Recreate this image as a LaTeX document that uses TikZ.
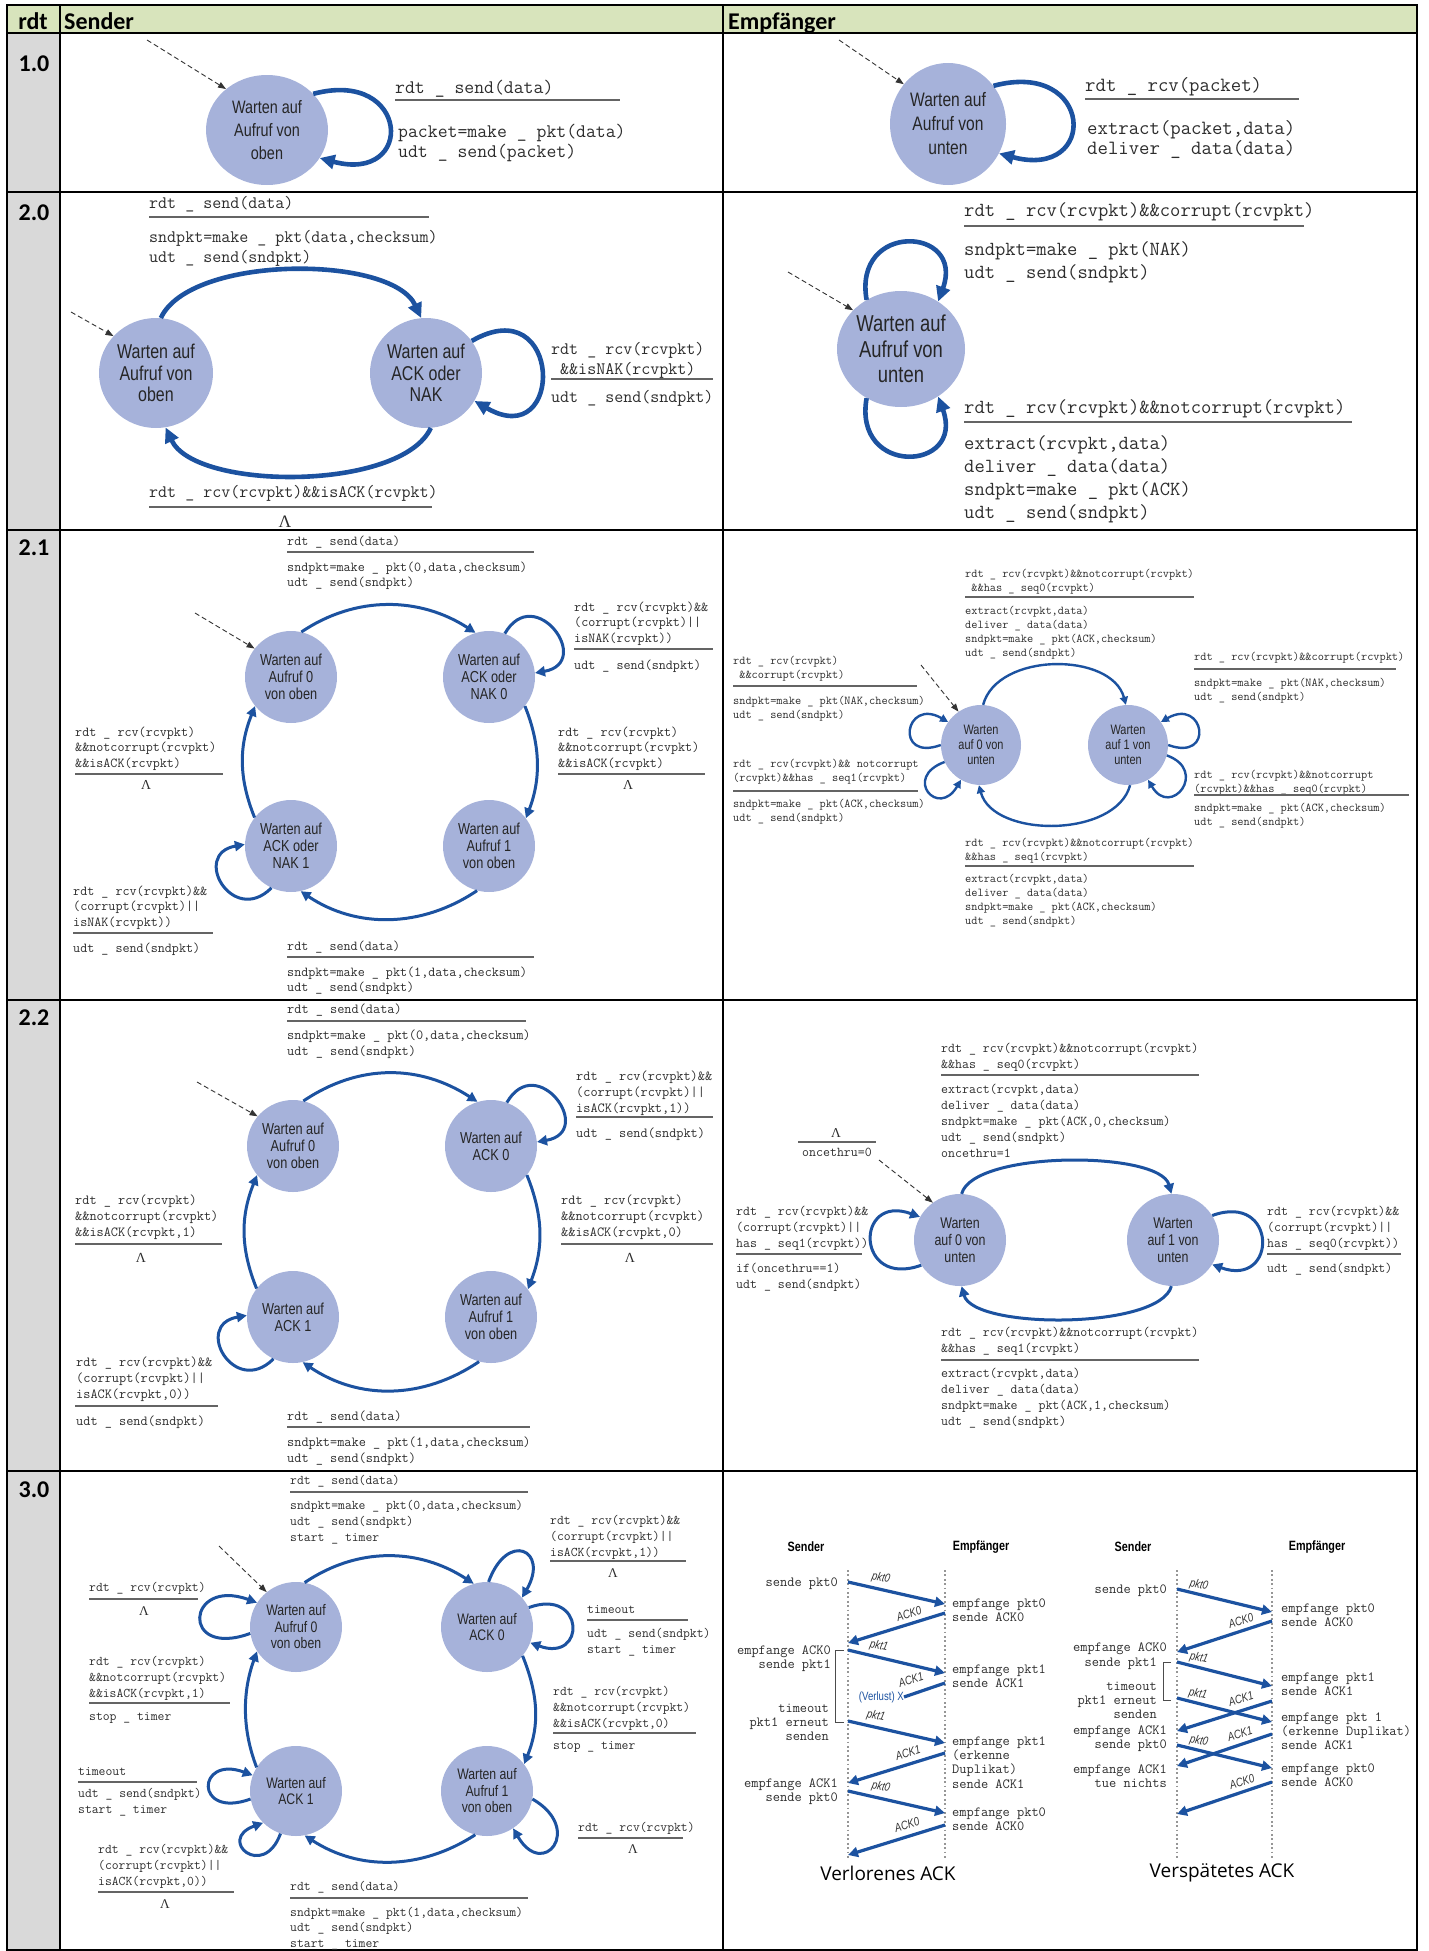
\documentclass[tikz,border=0pt]{standalone}
\usepackage{fontspec}
\newfontfamily\statefont[FakeStretch=0.8]{Liberation Sans}
\newfontfamily\headfont{Carlito}
\newfontfamily\titlefont{Open Sans}
\newfontfamily\lamfont{Liberation Serif}
\usetikzlibrary{arrows.meta,shapes.geometric}
\definecolor{hdrgreen}{RGB}{216,228,188}
\definecolor{colgray}{RGB}{217,217,217}
\definecolor{stfill}{RGB}{166,178,218}
\definecolor{trblue}{RGB}{28,82,160}
\definecolor{codegray}{RGB}{45,45,45}
\definecolor{rulegray}{RGB}{100,100,100}
\definecolor{lifegray}{RGB}{150,150,150}
% line blocks whose baseline is the first line
\newcommand{\lns}[1]{\begin{tabular}[t]{@{}l@{}}#1\end{tabular}}
\newcommand{\rlns}[1]{\begin{tabular}[t]{@{}r@{}}#1\end{tabular}}
\begin{document}
\begin{tikzpicture}[x=1pt,y=1pt,
  state/.style={ellipse,fill=stfill,inner sep=0pt,align=center,text=black!85},
  ini/.style={draw=black!80,line width=0.9pt,dash pattern=on 5pt off 3pt,-{Triangle[length=8pt,width=6pt]}},
  tra/.style={draw=trblue,line width=4.6pt,-{Triangle[length=15pt,width=14pt]}},
  trb/.style={draw=trblue,line width=3pt,-{Triangle[length=10pt,width=10pt]}},
  trc/.style={draw=trblue,line width=2.4pt,-{Triangle[length=8pt,width=8pt]}},
  txt/.style={anchor=base west,inner sep=0pt,text=codegray},
  rul/.style={draw=rulegray,line width=1.3pt},
  lam/.style={inner sep=0pt,text=codegray},
  hd/.style={anchor=base,inner sep=0pt,font=\headfont\bfseries\fontsize{24}{28}\selectfont},
  f10/.style={font=\statefont\fontsize{18}{23}\selectfont},
  f10r/.style={font=\statefont\fontsize{19.5}{24}\selectfont},
  f20/.style={font=\statefont\fontsize{20}{21.5}\selectfont},
  f20r/.style={font=\statefont\fontsize{23}{25.5}\selectfont},
  f21/.style={font=\statefont\fontsize{15.9}{17}\selectfont},
  f21r/.style={font=\statefont\fontsize{13.7}{15}\selectfont},
  f22r/.style={font=\statefont\fontsize{15.5}{17}\selectfont},
  f30/.style={font=\statefont\fontsize{15.3}{16.5}\selectfont},
  m10/.style={font=\ttfamily\fontsize{19.2}{20.5}\selectfont},
  m10r/.style={font=\ttfamily\fontsize{20.2}{20.5}\selectfont},
  m20/.style={font=\ttfamily\fontsize{17.5}{20.5}\selectfont},
  m20r/.style={font=\ttfamily\fontsize{20}{23}\selectfont},
  m21/.style={font=\ttfamily\fontsize{13.7}{15.6}\selectfont},
  m21r/.style={font=\ttfamily\fontsize{12}{14.2}\selectfont},
  m22/.style={font=\ttfamily\fontsize{13.9}{16}\selectfont},
  m22r/.style={font=\ttfamily\fontsize{13.5}{16}\selectfont},
  m30/.style={font=\ttfamily\fontsize{13.3}{16}\selectfont},
  sq/.style={inner sep=0pt,text=codegray,font=\ttfamily\fontsize{14}{14.4}\selectfont},
  sh/.style={inner sep=0pt,font=\statefont\bfseries\fontsize{13.5}{15}\selectfont},
  pl/.style={inner sep=0pt,text=black!80,font=\statefont\itshape\fontsize{12}{12}\selectfont},
  seqarr/.style={draw=trblue,line width=3.2pt,-{Triangle[length=10pt,width=10pt]}},
  life/.style={draw=lifegray,line width=1.8pt,dash pattern=on 1.8pt off 2.6pt},
  brk/.style={draw=black!70,line width=0.9pt},
  ttl/.style={inner sep=0pt,font=\titlefont\fontsize{19}{22}\selectfont}]
\useasboundingbox (0,0) rectangle (1428,-1951);

% table
\fill[hdrgreen] (7,-5) rectangle (1417,-33);
\fill[colgray] (7,-33) rectangle (60,-1950);
\draw[line width=2pt] (7,-5) rectangle (1417,-1950);
\foreach \y in {33,192,530,1000,1471} \draw[line width=2pt] (7,-\y) -- (1417,-\y);
\foreach \x in {60,723} \draw[line width=2pt] (\x,-5) -- (\x,-1950);
\node[hd] (hrdt) at (33,-30) {rdt};
\node[hd,anchor=base west] (hsnd) at (64,-30) {Sender};
\node[hd,anchor=base west] (hemp) at (728,-30) {Empfänger};
\foreach \r/\n/\y in {1.0/a/71,2.0/b/220,2.1/c/555,2.2/d/1025,3.0/e/1497}
  \node[hd] (row\n) at (34,-\y) {\r};

% rdt 1.0
\node[state,f10,minimum width=122pt,minimum height=110pt] (s10) at (267,-130) {Warten auf\\Aufruf von\\oben};
\coordinate (i10) at (147,-40);
\draw[ini] (i10) -- (s10.135);
\draw[tra] (s10.38) to[out=15,in=-15,distance=100] (s10.-28);
\node[txt,m10] (t10a) at (395,-93) {rdt \_ send(data)};
\draw[rul] (395,-100) -- (620,-100);
\node[txt,m10] (t10b) at (398,-137) {\lns{packet=make \_ pkt(data)\\udt \_ send(packet)}};

\node[state,f10r,minimum width=116pt,minimum height=122pt] (r10) at (948,-124) {Warten auf\\Aufruf von\\unten};
\coordinate (j10) at (839,-40);
\draw[ini] (j10) -- (r10.138);
\draw[tra] (r10.40) to[out=15,in=-15,distance=104] (r10.-30);
\node[txt,m10r] (u10a) at (1085,-91) {rdt \_ rcv(packet)};
\draw[rul] (1085,-99) -- (1299,-99);
\node[txt,m10r] (u10b) at (1087,-134) {\lns{extract(packet,data)\\deliver \_ data(data)}};

% rdt 2.0
\node[state,f20,minimum width=114pt,minimum height=110pt] (s20a) at (156,-373) {Warten auf\\Aufruf von\\oben};
\node[state,f20,minimum width=112pt,minimum height=110pt] (s20b) at (426,-373) {Warten auf\\ACK oder\\NAK};
\coordinate (i20) at (71,-312);
\draw[ini] (i20) -- (s20a.139);
\draw[tra] (s20a.85) to[out=65,in=115,distance=70] (s20b.95);
\draw[tra] (s20b.-85) to[out=-115,in=-65,distance=70] (s20a.-80);
\draw[tra] (s20b.35) to[out=30,in=-30,distance=105] (s20b.-30);
\node[txt,m20] (t20a) at (149,-208) {rdt \_ send(data)};
\draw[rul] (149,-217) -- (429,-217);
\node[txt,m20] (t20b) at (149,-242) {\lns{sndpkt=make \_ pkt(data,checksum)\\udt \_ send(sndpkt)}};
\node[txt,m20] (t20c) at (551,-354) {\lns{rdt \_ rcv(rcvpkt)\\\hphantom{x}\&\&isNAK(rcvpkt)}};
\draw[rul] (551,-379) -- (713,-379);
\node[txt,m20] (t20d) at (551,-402) {udt \_ send(sndpkt)};
\node[txt,m20] (t20e) at (149,-497) {rdt \_ rcv(rcvpkt)\&\&isACK(rcvpkt)};
\draw[rul] (149,-507) -- (432,-507);
\node[lam,m20] (l20) at (285,-522) {\lamfont Λ};

\node[state,f20r,minimum width=128pt,minimum height=116pt] (r20) at (901,-349) {Warten auf\\Aufruf von\\unten};
\coordinate (j20) at (788,-272);
\draw[ini] (j20) -- (r20.141);
\draw[tra] (r20.125) to[out=100,in=70,distance=80] (r20.52);
\draw[tra] (r20.-125) to[out=-100,in=-70,distance=80] (r20.-52);
\node[txt,m20r] (u20a) at (964,-216) {rdt \_ rcv(rcvpkt)\&\&corrupt(rcvpkt)};
\draw[rul] (964,-226) -- (1304,-226);
\node[txt,m20r] (u20b) at (964,-255) {\lns{sndpkt=make \_ pkt(NAK)\\udt \_ send(sndpkt)}};
\node[txt,m20r] (u20c) at (964,-413) {rdt \_ rcv(rcvpkt)\&\&notcorrupt(rcvpkt)};
\draw[rul] (964,-422) -- (1352,-422);
\node[txt,m20r] (u20d) at (964,-449) {\lns{extract(rcvpkt,data)\\deliver \_ data(data)\\sndpkt=make \_ pkt(ACK)\\udt \_ send(sndpkt)}};

% rdt 2.1
\node[state,f21,minimum width=92pt,minimum height=92pt] (s21a) at (291,-677) {Warten auf\\Aufruf 0\\von oben};
\node[state,f21,minimum width=92pt,minimum height=92pt] (s21b) at (489,-677) {Warten auf\\ACK oder\\NAK 0};
\node[state,f21,minimum width=92pt,minimum height=92pt] (s21c) at (291,-846) {Warten auf\\ACK oder\\NAK 1};
\node[state,f21,minimum width=92pt,minimum height=92pt] (s21d) at (489,-846) {Warten auf\\Aufruf 1\\von oben};
\coordinate (i21) at (195,-613);
\draw[ini] (i21) -- (s21a.142);
\draw[trb] (s21a.77) to[out=34,in=147,distance=66] (s21b.107);
\draw[trb] (s21b.-39) to[out=-68,in=69,distance=42] (s21d.37);
\draw[trb] (s21d.-105) to[out=-146,in=-34,distance=67] (s21c.-78);
\draw[trb] (s21c.142) to[out=112,in=-112,distance=43] (s21a.-141);
\draw[trb] (s21b.70) to[out=60,in=10,distance=60] (s21b.5);
\draw[trb] (s21c.-115) to[out=-135,in=190,distance=55] (s21c.178);
\node[txt,m21] (t21a) at (287,-545) {rdt \_ send(data)};
\draw[rul] (287,-552) -- (534,-552);
\node[txt,m21] (t21b) at (287,-571) {\lns{sndpkt=make \_ pkt(0,data,checksum)\\udt \_ send(sndpkt)}};
\node[txt,m21] (t21c) at (574,-611) {\lns{rdt \_ rcv(rcvpkt)\&\&\\(corrupt(rcvpkt)||\\isNAK(rcvpkt))}};
\draw[rul] (574,-649) -- (713,-649);
\node[txt,m21] (t21d) at (574,-669) {udt \_ send(sndpkt)};
\node[txt,m21] (t21e) at (558,-736) {\lns{rdt \_ rcv(rcvpkt)\\\&\&notcorrupt(rcvpkt)\\\&\&isACK(rcvpkt)}};
\draw[rul] (558,-774) -- (705,-774);
\node[lam,m21] (l21a) at (628,-785) {\lamfont Λ};
\node[txt,m21] (t21f) at (75,-736) {\lns{rdt \_ rcv(rcvpkt)\\\&\&notcorrupt(rcvpkt)\\\&\&isACK(rcvpkt)}};
\draw[rul] (75,-774) -- (223,-774);
\node[lam,m21] (l21b) at (146,-785) {\lamfont Λ};
\node[txt,m21] (t21g) at (73,-895) {\lns{rdt \_ rcv(rcvpkt)\&\&\\(corrupt(rcvpkt)||\\isNAK(rcvpkt))}};
\draw[rul] (73,-933) -- (213,-933);
\node[txt,m21] (t21h) at (73,-952) {udt \_ send(sndpkt)};
\node[txt,m21] (t21i) at (287,-950) {rdt \_ send(data)};
\draw[rul] (287,-957) -- (534,-957);
\node[txt,m21] (t21j) at (287,-976) {\lns{sndpkt=make \_ pkt(1,data,checksum)\\udt \_ send(sndpkt)}};

\node[state,f21r,minimum width=80pt,minimum height=80pt] (r21a) at (981,-745) {Warten\\auf 0 von\\unten};
\node[state,f21r,minimum width=80pt,minimum height=80pt] (r21b) at (1128,-745) {Warten\\auf 1 von\\unten};
\coordinate (j21) at (921,-665);
\draw[ini] (j21) -- (r21a.124);
\draw[trc] (r21a.87) to[out=75,in=105,distance=55] (r21b.93);
\draw[trc] (r21b.-87) to[out=-105,in=-75,distance=55] (r21a.-93);
\draw[trc] (r21a.180) to[out=200,in=150,distance=50] (r21a.145);
\draw[trc] (r21a.205) to[out=200,in=240,distance=45] (r21a.240);
\draw[trc] (r21b.0) to[out=-20,in=30,distance=50] (r21b.35);
\draw[trc] (r21b.-15) to[out=-20,in=-60,distance=45] (r21b.-60);
\node[txt,m21r] (u21a) at (965,-577) {\lns{rdt \_ rcv(rcvpkt)\&\&notcorrupt(rcvpkt)\\\hphantom{x}\&\&has \_ seq0(rcvpkt)}};
\draw[rul] (965,-597) -- (1194,-597);
\node[txt,m21r] (u21b) at (965,-614) {\lns{extract(rcvpkt,data)\\deliver \_ data(data)\\sndpkt=make \_ pkt(ACK,checksum)\\udt \_ send(sndpkt)}};
\node[txt,m21r] (u21c) at (733,-664) {\lns{rdt \_ rcv(rcvpkt)\\\hphantom{x}\&\&corrupt(rcvpkt)}};
\draw[rul] (733,-686) -- (917,-686);
\node[txt,m21r] (u21d) at (733,-704) {\lns{sndpkt=make \_ pkt(NAK,checksum)\\udt \_ send(sndpkt)}};
\node[txt,m21r] (u21e) at (733,-767) {\lns{rdt \_ rcv(rcvpkt)\&\& notcorrupt\\(rcvpkt)\&\&has \_ seq1(rcvpkt)}};
\draw[rul] (733,-791) -- (918,-791);
\node[txt,m21r] (u21f) at (733,-807) {\lns{sndpkt=make \_ pkt(ACK,checksum)\\udt \_ send(sndpkt)}};
\node[txt,m21r] (u21g) at (1194,-660) {rdt \_ rcv(rcvpkt)\&\&corrupt(rcvpkt)};
\draw[rul] (1194,-669) -- (1396,-669);
\node[txt,m21r] (u21h) at (1194,-686) {\lns{sndpkt=make \_ pkt(NAK,checksum)\\udt \_ send(sndpkt)}};
\node[txt,m21r] (u21i) at (1194,-778) {\lns{rdt \_ rcv(rcvpkt)\&\&notcorrupt\\(rcvpkt)\&\&has \_ seq0(rcvpkt)}};
\draw[rul] (1194,-795) -- (1409,-795);
\node[txt,m21r] (u21j) at (1194,-811) {\lns{sndpkt=make \_ pkt(ACK,checksum)\\udt \_ send(sndpkt)}};
\node[txt,m21r] (u21k) at (965,-846) {\lns{rdt \_ rcv(rcvpkt)\&\&notcorrupt(rcvpkt)\\\&\&has \_ seq1(rcvpkt)}};
\draw[rul] (965,-866) -- (1194,-866);
\node[txt,m21r] (u21l) at (965,-882) {\lns{extract(rcvpkt,data)\\deliver \_ data(data)\\sndpkt=make \_ pkt(ACK,checksum)\\udt \_ send(sndpkt)}};

% rdt 2.2
\node[state,f21,minimum width=92pt,minimum height=92pt] (s22a) at (293,-1146) {Warten auf\\Aufruf 0\\von oben};
\node[state,f21,minimum width=92pt,minimum height=92pt] (s22b) at (491,-1146) {Warten auf\\ACK 0};
\node[state,f21,minimum width=92pt,minimum height=92pt] (s22c) at (293,-1317) {Warten auf\\ACK 1};
\node[state,f21,minimum width=92pt,minimum height=92pt] (s22d) at (491,-1317) {Warten auf\\Aufruf 1\\von oben};
\coordinate (i22) at (197,-1082);
\draw[ini] (i22) -- (s22a.140);
\draw[trb] (s22a.77) to[out=34,in=147,distance=68] (s22b.107);
\draw[trb] (s22b.-39) to[out=-68,in=69,distance=44] (s22d.37);
\draw[trb] (s22d.-105) to[out=-146,in=-34,distance=68] (s22c.-78);
\draw[trb] (s22c.142) to[out=112,in=-112,distance=44] (s22a.-141);
\draw[trb] (s22b.70) to[out=60,in=10,distance=60] (s22b.5);
\draw[trb] (s22c.-115) to[out=-135,in=190,distance=55] (s22c.178);
\node[txt,m22] (t22a) at (287,-1013) {rdt \_ send(data)};
\draw[rul] (287,-1021) -- (526,-1021);
\node[txt,m22] (t22b) at (287,-1039) {\lns{sndpkt=make \_ pkt(0,data,checksum)\\udt \_ send(sndpkt)}};
\node[txt,m22] (t22c) at (576,-1080) {\lns{rdt \_ rcv(rcvpkt)\&\&\\(corrupt(rcvpkt)||\\isACK(rcvpkt,1))}};
\draw[rul] (576,-1117) -- (713,-1117);
\node[txt,m22] (t22d) at (576,-1137) {udt \_ send(sndpkt)};
\node[txt,m22] (t22e) at (561,-1204) {\lns{rdt \_ rcv(rcvpkt)\\\&\&notcorrupt(rcvpkt)\\\&\&isACK(rcvpkt,0)}};
\draw[rul] (561,-1244) -- (713,-1244);
\node[lam,m22] (l22a) at (630,-1258) {\lamfont Λ};
\node[txt,m22] (t22f) at (75,-1204) {\lns{rdt \_ rcv(rcvpkt)\\\&\&notcorrupt(rcvpkt)\\\&\&isACK(rcvpkt,1)}};
\draw[rul] (75,-1244) -- (222,-1244);
\node[lam,m22] (l22b) at (141,-1258) {\lamfont Λ};
\node[txt,m22] (t22g) at (76,-1366) {\lns{rdt \_ rcv(rcvpkt)\&\&\\(corrupt(rcvpkt)||\\isACK(rcvpkt,0))}};
\draw[rul] (75,-1406) -- (218,-1406);
\node[txt,m22] (t22h) at (76,-1425) {udt \_ send(sndpkt)};
\node[txt,m22] (t22i) at (287,-1420) {rdt \_ send(data)};
\draw[rul] (287,-1427) -- (530,-1427);
\node[txt,m22] (t22j) at (287,-1446) {\lns{sndpkt=make \_ pkt(1,data,checksum)\\udt \_ send(sndpkt)}};

\node[state,f22r,minimum width=92pt,minimum height=92pt] (r22a) at (960,-1240) {Warten\\auf 0 von\\unten};
\node[state,f22r,minimum width=92pt,minimum height=92pt] (r22b) at (1173,-1240) {Warten\\auf 1 von\\unten};
\node[lam,m22r] (l22c) at (836,-1133) {\lamfont Λ};
\draw[rul] (798,-1142) -- (876,-1142);
\node[lam,m22r,anchor=base] (once) at (837,-1156) {oncethru=0};
\coordinate (j22) at (879,-1160);
\draw[ini] (j22) -- (r22a.126);
\draw[trb] (r22a.88) to[out=75,in=105,distance=45] (r22b.92);
\draw[trb] (r22b.-92) to[out=-105,in=-75,distance=45] (r22a.-88);
\draw[trb] (r22a.213) to[out=200,in=160,distance=70] (r22a.150);
\draw[trb] (r22b.32) to[out=20,in=-20,distance=70] (r22b.-32);
\node[txt,m22r] (u22a) at (941,-1052) {\lns{rdt \_ rcv(rcvpkt)\&\&notcorrupt(rcvpkt)\\\&\&has \_ seq0(rcvpkt)}};
\draw[rul] (941,-1075) -- (1199,-1075);
\node[txt,m22r] (u22b) at (941,-1093) {\lns{extract(rcvpkt,data)\\deliver \_ data(data)\\sndpkt=make \_ pkt(ACK,0,checksum)\\udt \_ send(sndpkt)\\oncethru=1}};
\node[txt,m22r] (u22c) at (736,-1215) {\lns{rdt \_ rcv(rcvpkt)\&\&\\(corrupt(rcvpkt)||\\has \_ seq1(rcvpkt))}};
\draw[rul] (736,-1254) -- (862,-1254);
\node[txt,m22r] (u22d) at (736,-1272) {\lns{if(oncethru==1)\\udt \_ send(sndpkt)}};
\node[txt,m22r] (u22e) at (1267,-1215) {\lns{rdt \_ rcv(rcvpkt)\&\&\\(corrupt(rcvpkt)||\\has \_ seq0(rcvpkt))}};
\draw[rul] (1267,-1254) -- (1401,-1254);
\node[txt,m22r] (u22f) at (1267,-1272) {udt \_ send(sndpkt)};
\node[txt,m22r] (u22g) at (941,-1336) {\lns{rdt \_ rcv(rcvpkt)\&\&notcorrupt(rcvpkt)\\\&\&has \_ seq1(rcvpkt)}};
\draw[rul] (941,-1360) -- (1199,-1360);
\node[txt,m22r] (u22h) at (941,-1377) {\lns{extract(rcvpkt,data)\\deliver \_ data(data)\\sndpkt=make \_ pkt(ACK,1,checksum)\\udt \_ send(sndpkt)}};

% rdt 3.0
\node[state,f30,minimum width=92pt,minimum height=90pt] (s30a) at (296,-1627) {Warten auf\\Aufruf 0\\von oben};
\node[state,f30,minimum width=92pt,minimum height=90pt] (s30b) at (487,-1627) {Warten auf\\ACK 0};
\node[state,f30,minimum width=92pt,minimum height=90pt] (s30c) at (296,-1791) {Warten auf\\ACK 1};
\node[state,f30,minimum width=92pt,minimum height=90pt] (s30d) at (487,-1791) {Warten auf\\Aufruf 1\\von oben};
\coordinate (i30) at (219,-1546);
\draw[ini] (i30) -- (s30a.130);
\draw[trb] (s30a.79) to[out=34,in=147,distance=65] (s30b.107);
\draw[trb] (s30b.-39) to[out=-68,in=68,distance=42] (s30d.36);
\draw[trb] (s30d.-105) to[out=-147,in=-33,distance=65] (s30c.-79);
\draw[trb] (s30c.149) to[out=111,in=-110,distance=42] (s30a.212);
\draw[trb] (s30a.188) to[out=200,in=160,distance=75] (s30a.148);
\draw[trb] (s30b.88) to[out=70,in=60,distance=55] (s30b.40);
\draw[trb] (s30b.25) to[out=20,in=-20,distance=60] (s30b.-20);
\draw[trb] (s30c.190) to[out=200,in=160,distance=60] (s30c.160);
\draw[trb] (s30c.250) to[out=250,in=200,distance=50] (s30c.224);
\draw[trb] (s30d.-10) to[out=-30,in=-60,distance=60] (s30d.-55);
\node[txt,m30] (t30a) at (290,-1484) {rdt \_ send(data)};
\draw[rul] (290,-1492) -- (528,-1492);
\node[txt,m30] (t30b) at (290,-1509) {\lns{sndpkt=make \_ pkt(0,data,checksum)\\udt \_ send(sndpkt)\\start \_ timer}};
\node[txt,m30] (t30c) at (550,-1524) {\lns{rdt \_ rcv(rcvpkt)\&\&\\(corrupt(rcvpkt)||\\isACK(rcvpkt,1))}};
\draw[rul] (550,-1561) -- (686,-1561);
\node[lam,m30] (l30a) at (613,-1573) {\lamfont Λ};
\node[txt,m30] (t30d) at (587,-1613) {timeout};
\draw[rul] (587,-1620) -- (688,-1620);
\node[txt,m30] (t30e) at (587,-1637) {\lns{udt \_ send(sndpkt)\\start \_ timer}};
\node[txt,m30] (t30f) at (553,-1695) {\lns{rdt \_ rcv(rcvpkt)\\\&\&notcorrupt(rcvpkt)\\\&\&isACK(rcvpkt,0)}};
\draw[rul] (553,-1733) -- (696,-1733);
\node[txt,m30] (t30g) at (553,-1749) {stop \_ timer};
\node[txt,m30] (t30h) at (89,-1591) {rdt \_ rcv(rcvpkt)};
\draw[rul] (89,-1599) -- (198,-1599);
\node[lam,m30] (l30b) at (144,-1611) {\lamfont Λ};
\node[txt,m30] (t30i) at (89,-1665) {\lns{rdt \_ rcv(rcvpkt)\\\&\&notcorrupt(rcvpkt)\\\&\&isACK(rcvpkt,1)}};
\draw[rul] (89,-1703) -- (230,-1703);
\node[txt,m30] (t30j) at (89,-1720) {stop \_ timer};
\node[txt,m30] (t30k) at (78,-1775) {timeout};
\draw[rul] (78,-1782) -- (197,-1782);
\node[txt,m30] (t30l) at (78,-1797) {\lns{udt \_ send(sndpkt)\\start \_ timer}};
\node[txt,m30] (t30m) at (98,-1853) {\lns{rdt \_ rcv(rcvpkt)\&\&\\(corrupt(rcvpkt)||\\isACK(rcvpkt,0))}};
\draw[rul] (98,-1892) -- (234,-1892);
\node[lam,m30] (l30c) at (165,-1904) {\lamfont Λ};
\node[txt,m30] (t30n) at (578,-1831) {rdt \_ rcv(rcvpkt)};
\draw[rul] (578,-1838) -- (683,-1838);
\node[lam,m30] (l30d) at (633,-1849) {\lamfont Λ};
\node[txt,m30] (t30o) at (290,-1890) {rdt \_ send(data)};
\draw[rul] (290,-1898) -- (528,-1898);
\node[txt,m30,font=\ttfamily\fontsize{13.3}{15.5}\selectfont] (t30p) at (290,-1916) {\lns{sndpkt=make \_ pkt(1,data,checksum)\\udt \_ send(sndpkt)\\start \_ timer}};

% Verlorenes ACK
\node[sh] (vhs) at (806,-1547) {Sender};
\node[sh] (vhe) at (981,-1547) {Empfänger};
\coordinate (vs0) at (848,-1570); \coordinate (vs1) at (848,-1858);
\coordinate (ve0) at (945,-1570); \coordinate (ve1) at (945,-1858);
\draw[life] (vs0) -- (vs1);
\draw[life] (ve0) -- (ve1);
\foreach \n/\xs/\ys/\xe/\ye in {1/848/1582/945/1604,2/945/1613/848/1643,3/848/1650/945/1673,5/848/1721/945/1743,6/945/1753/848/1783,7/848/1791/945/1813,8/945/1825/848/1855}{
  \coordinate (va\n) at (\xs,-\ys);
  \coordinate (vb\n) at (\xe,-\ye);
  \draw[seqarr] (va\n) -- (vb\n);}
\coordinate (va4) at (945,-1683);
\coordinate (vlost) at (904,-1697);
\draw[draw=trblue,line width=3.2pt] (va4) -- (vlost);
\node[pl,text=trblue,font=\statefont\fontsize{12}{12}\selectfont,anchor=east] (verl) at (vlost) {(Verlust) X};
\foreach \t/\x/\y/\r [count=\i] in {pkt0/881/1578/-13,ACK0/909/1614/17,pkt1/879/1646/-13,ACK1/911/1680/17,pkt1/876/1716/-13,ACK1/908/1753/17,pkt0/881/1787/-13,ACK0/907/1825/17}
  \node[pl,rotate=\r] (vl\i) at (\x,-\y) {\t};
\node[sq,anchor=base east] (vt1) at (838,-1586) {sende pkt0};
\node[sq,anchor=base east] (vt2) at (831,-1654) {\rlns{empfange ACK0\\sende pkt1}};
\node[sq,anchor=base east] (vt3) at (829,-1712) {\rlns{timeout\\pkt1 erneut\\senden}};
\node[sq,anchor=base east] (vt4) at (838,-1787) {\rlns{empfange ACK1\\sende pkt0}};
\draw[brk] (844,-1650) -- (835,-1650) -- (835,-1722) -- (844,-1722);
\node[sq,anchor=base west] (vr1) at (952,-1607) {\lns{empfange pkt0\\sende ACK0}};
\node[sq,anchor=base west] (vr2) at (952,-1673) {\lns{empfange pkt1\\sende ACK1}};
\node[sq,anchor=base west] (vr3) at (952,-1745) {\lns{empfange pkt1\\(erkenne\\Duplikat)\\sende ACK1}};
\node[sq,anchor=base west] (vr4) at (952,-1816) {\lns{empfange pkt0\\sende ACK0}};
\node[ttl] (vtitle) at (888,-1873) {Verlorenes ACK};

% Verspaetetes ACK
\node[sh] (whs) at (1133,-1547) {Sender};
\node[sh] (whe) at (1317,-1547) {Empfänger};
\coordinate (ws0) at (1177,-1570); \coordinate (ws1) at (1177,-1858);
\coordinate (we0) at (1272,-1570); \coordinate (we1) at (1272,-1858);
\draw[life] (ws0) -- (ws1);
\draw[life] (we0) -- (we1);
\foreach \n/\xs/\ys/\xe/\ye in {1/1177/1589/1272/1612,2/1272/1621/1177/1652,3/1177/1662/1272/1686,4/1177/1698/1272/1722,5/1272/1701/1177/1731,6/1272/1734/1177/1766,7/1177/1745/1272/1768,8/1272/1782/1177/1814}{
  \coordinate (wa\n) at (\xs,-\ys);
  \coordinate (wb\n) at (\xe,-\ye);
  \draw[seqarr] (wa\n) -- (wb\n);}
\foreach \t/\x/\y/\r [count=\i] in {pkt0/1199/1585/-13,ACK0/1241/1621/17,pkt1/1199/1658/-13,pkt1/1198/1694/-13,ACK1/1241/1699/17,ACK1/1240/1734/17,pkt0/1199/1741/-13,ACK0/1242/1782/17}
  \node[pl,rotate=\r] (wl\i) at (\x,-\y) {\t};
\node[sq,anchor=base east] (wt1) at (1167,-1593) {sende pkt0};
\node[sq,anchor=base east] (wt2) at (1167,-1651) {empfange ACK0};
\node[sq,anchor=base east] (wt3) at (1157,-1666) {sende pkt1};
\node[sq,anchor=base east] (wt4) at (1157,-1690) {\rlns{timeout\\pkt1 erneut\\senden}};
\node[sq,anchor=base east] (wt5) at (1167,-1734) {\rlns{empfange ACK1\\sende pkt0}};
\node[sq,anchor=base east] (wt6) at (1167,-1773) {\rlns{empfange ACK1\\tue nichts}};
\draw[brk] (1171,-1662) -- (1163,-1662) -- (1163,-1700) -- (1171,-1700);
\node[sq,anchor=base west] (wr1) at (1281,-1612) {\lns{empfange pkt0\\sende ACK0}};
\node[sq,anchor=base west] (wr2) at (1281,-1681) {\lns{empfange pkt1\\sende ACK1}};
\node[sq,anchor=base west] (wr3) at (1281,-1721) {\lns{empfange pkt 1\\(erkenne Duplikat)\\sende ACK1}};
\node[sq,anchor=base west] (wr4) at (1281,-1772) {\lns{empfange pkt0\\sende ACK0}};
\node[ttl] (wtitle) at (1222,-1873) {Verspätetes ACK};
\end{tikzpicture}
\end{document}
